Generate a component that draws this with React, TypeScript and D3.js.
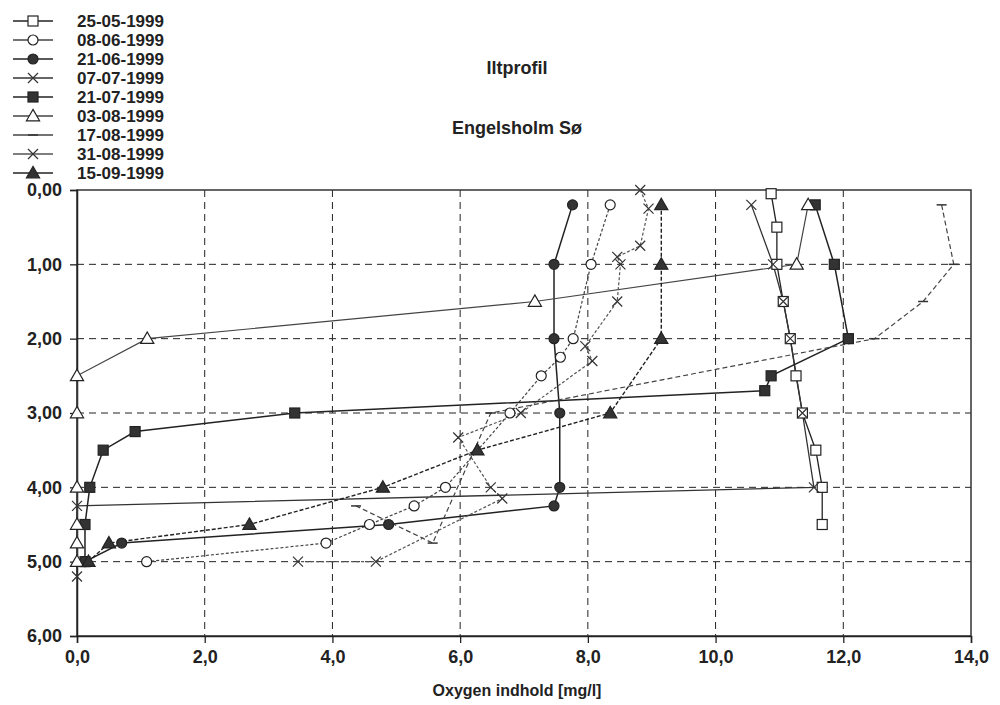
import { useEffect, useRef } from "react"
import * as d3 from "d3"

// depth in metres, oxygen in mg/l
const dates = ["25-05-1999", "08-06-1999", "21-06-1999", "07-07-1999", "21-07-1999", "03-08-1999", "17-08-1999", "31-08-1999", "15-09-1999"]

const ox2505 = [10.87, 10.96, 10.96, 11.06, 11.17, 11.26, 11.36, 11.57, 11.67, 11.67]
const d2505 = [0.05, 0.5, 1.0, 1.5, 2.0, 2.5, 3.0, 3.5, 4.0, 4.5]

const ox0806 = [8.35, 8.05, 7.77, 7.57, 7.27, 6.78, 5.77, 5.28, 4.58, 3.9, 1.09]
const d0806 = [0.2, 1.0, 2.0, 2.25, 2.5, 3.0, 4.0, 4.25, 4.5, 4.75, 5.0]

const ox2106 = [7.76, 7.47, 7.47, 7.56, 7.56, 7.47, 4.88, 0.7, 0.125]
const d2106 = [0.2, 1.0, 2.0, 3.0, 4.0, 4.25, 4.5, 4.75, 5.0]

const ox0707 = [10.56, 10.9, 11.06, 11.17, 11.36, 11.54, 0.0, 0.0]
const d0707 = [0.2, 1.0, 1.5, 2.0, 3.0, 4.0, 4.25, 5.2]

const ox2107 = [11.56, 11.86, 12.08, 10.87, 10.77, 3.41, 0.91, 0.41, 0.2, 0.125, 0.125]
const d2107 = [0.2, 1.0, 2.0, 2.5, 2.7, 3.0, 3.25, 3.5, 4.0, 4.5, 5.0]

const ox0308 = [11.45, 11.27, 7.17, 1.1, 0, 0, 0, 0, 0, 0]
const d0308 = [0.2, 1.0, 1.5, 2.0, 2.5, 3.0, 4.0, 4.5, 4.75, 5.0]

const ox1708 = [13.54, 13.73, 13.25, 12.49, 6.48, 5.57, 4.37]
const d1708 = [0.2, 1.0, 1.5, 2.0, 3.0, 4.75, 4.25]

const ox3108 = [8.82, 8.95, 8.82, 8.46, 8.51, 8.46, 7.96, 8.07, 6.95, 5.97, 6.48, 6.66, 4.68, 3.46]
const d3108 = [0.0, 0.25, 0.75, 0.9, 1.0, 1.5, 2.1, 2.3, 3.0, 3.33, 4.0, 4.15, 5.0, 5.0]

const ox1509 = [9.15, 9.15, 9.15, 8.35, 6.27, 4.79, 2.7, 0.5, 0.18]
const d1509 = [0.2, 1.0, 2.0, 3.0, 3.5, 4.0, 4.5, 4.75, 5.0]

const xTicks = [0, 2, 4, 6, 8, 10, 12, 14]
const yTicks = [0, 1, 2, 3, 4, 5, 6]

const titleLines = ["Iltprofil", "Engelsholm Sø"]
const xTitle = "Oxygen indhold [mg/l]"

const FONT = "'Liberation Sans', Arial, sans-serif"

export default function App() {
  const svgRef = useRef<SVGSVGElement>(null)

  useEffect(() => {
    const svg = d3.select(svgRef.current)
    svg.selectAll("*").remove()
    const width = 1000
    const height = 705
    const m = { left: 77, right: 971, top: 190, bottom: 636 }

    svg.attr("viewBox", `0 0 ${width} ${height}`)
    svg.append("rect").attr("width", width).attr("height", height).attr("fill", "#fff")

    const x = d3.scaleLinear().domain([0, 14]).range([m.left, m.right])
    const y = d3.scaleLinear().domain([0, 6]).range([m.top, m.bottom])
    const comma = (f: string) => (v: number) => d3.format(f)(v).replace(".", ",")

    // grid
    const grid = svg.append("g").attr("stroke", "#222").attr("stroke-width", 1).attr("stroke-dasharray", "7,5")
    grid.selectAll("line.gx")
      .data(xTicks.slice(1, -1))
      .join("line")
      .attr("x1", d => x(d)).attr("x2", d => x(d))
      .attr("y1", m.top).attr("y2", m.bottom)
    grid.selectAll("line.gy")
      .data(yTicks.slice(1, -1))
      .join("line")
      .attr("class", "gy")
      .attr("x1", m.left).attr("x2", m.right)
      .attr("y1", d => y(d)).attr("y2", d => y(d))

    // frame
    svg.append("rect")
      .attr("x", m.left).attr("y", m.top)
      .attr("width", m.right - m.left).attr("height", m.bottom - m.top)
      .attr("fill", "none").attr("stroke", "#333").attr("stroke-width", 1.5)

    // axes
    const ax = svg.append("g")
      .attr("transform", `translate(0,${m.bottom})`)
      .call(d3.axisBottom(x).tickValues(xTicks).tickFormat(comma(".1f") as any).tickSize(7).tickPadding(7))
    const ay = svg.append("g")
      .attr("transform", `translate(${m.left},0)`)
      .call(d3.axisLeft(y).tickValues(yTicks).tickFormat(comma(".2f") as any).tickSize(7).tickPadding(8))
    for (const a of [ax, ay]) {
      a.select(".domain").attr("stroke", "#222").attr("stroke-width", 1.5)
      a.selectAll(".tick line").attr("stroke", "#222").attr("stroke-width", 1.3)
      a.selectAll("text").attr("font-family", FONT).attr("font-size", 18).attr("font-weight", "bold").attr("fill", "#222")
    }

    // markers
    const drawMarker = (g: any, kind: string, cx: number, cy: number) => {
      const s = 5
      if (kind === "sq" || kind === "sqf") {
        g.append("rect").attr("x", cx - s).attr("y", cy - s).attr("width", 2 * s).attr("height", 2 * s)
          .attr("fill", kind === "sqf" ? "#333" : "#fff").attr("stroke", "#222").attr("stroke-width", 1.2)
      } else if (kind === "ci" || kind === "cif") {
        g.append("circle").attr("cx", cx).attr("cy", cy).attr("r", 5)
          .attr("fill", kind === "cif" ? "#333" : "#fff").attr("stroke", "#222").attr("stroke-width", 1.2)
      } else if (kind === "tr" || kind === "trf") {
        const sym = d3.symbol().type(d3.symbolTriangle).size(75)
        g.append("path").attr("d", sym()).attr("transform", `translate(${cx},${cy + 1})`)
          .attr("fill", kind === "trf" ? "#333" : "#fff").attr("stroke", "#222").attr("stroke-width", 1.2)
      } else if (kind === "x") {
        g.append("path").attr("d", `M${cx - 5},${cy - 5}L${cx + 5},${cy + 5}M${cx - 5},${cy + 5}L${cx + 5},${cy - 5}`)
          .attr("stroke", "#333").attr("stroke-width", 1.2).attr("fill", "none")
      } else if (kind === "dash") {
        g.append("path").attr("d", `M${cx - 5},${cy}L${cx + 5},${cy}`)
          .attr("stroke", "#333").attr("stroke-width", 1.5)
      }
    }

    const series = [
      { name: dates[0], xs: ox2505, ds: d2505, mk: "sq", dash: null, col: "#222", w: 1.3 },
      { name: dates[1], xs: ox0806, ds: d0806, mk: "ci", dash: "3,2", col: "#444", w: 1.2 },
      { name: dates[2], xs: ox2106, ds: d2106, mk: "cif", dash: null, col: "#222", w: 1.5 },
      { name: dates[3], xs: ox0707, ds: d0707, mk: "x", dash: null, col: "#333", w: 1.3 },
      { name: dates[4], xs: ox2107, ds: d2107, mk: "sqf", dash: null, col: "#222", w: 1.5 },
      { name: dates[5], xs: ox0308, ds: d0308, mk: "tr", dash: null, col: "#444", w: 1.2 },
      { name: dates[6], xs: ox1708, ds: d1708, mk: "dash", dash: "5,3", col: "#444", w: 1.2 },
      { name: dates[7], xs: ox3108, ds: d3108, mk: "x", dash: "3,2", col: "#555", w: 1.2 },
      { name: dates[8], xs: ox1509, ds: d1509, mk: "trf", dash: "4,2", col: "#222", w: 1.4 },
    ]

    const line = d3.line<[number, number]>().x(d => x(d[0])).y(d => y(d[1]))
    const plot = svg.append("g")
    series.forEach(s => {
      const pts: [number, number][] = s.xs.map((v, i) => [v, s.ds[i]])
      plot.append("path")
        .attr("d", line(pts))
        .attr("fill", "none")
        .attr("stroke", s.col)
        .attr("stroke-width", s.w)
        .attr("stroke-dasharray", s.dash)
    })
    series.forEach(s => {
      const g = plot.append("g")
      s.xs.forEach((v, i) => drawMarker(g, s.mk, x(v), y(s.ds[i])))
    })

    // legend
    const leg = svg.append("g")
    series.forEach((s, i) => {
      const cy = 21 + i * 19
      leg.append("line").attr("x1", 13).attr("x2", 53).attr("y1", cy).attr("y2", cy)
        .attr("stroke", s.col).attr("stroke-width", 1.3)
      drawMarker(leg, s.mk, 33, cy)
      leg.append("text").attr("x", 77).attr("y", cy).attr("dy", "0.36em")
        .attr("font-family", FONT).attr("font-size", 17).attr("font-weight", "bold").attr("fill", "#222")
        .text(s.name)
    })

    // titles
    svg.selectAll("text.title")
      .data(titleLines)
      .join("text")
      .attr("class", "title")
      .attr("x", 517).attr("y", (d, i) => 74 + i * 60)
      .attr("text-anchor", "middle")
      .attr("font-family", FONT).attr("font-size", 18).attr("font-weight", "bold").attr("fill", "#222")
      .text(d => d)

    svg.append("text")
      .attr("x", 517).attr("y", 696)
      .attr("text-anchor", "middle")
      .attr("font-family", FONT).attr("font-size", 16).attr("font-weight", "bold").attr("fill", "#222")
      .text(xTitle)
  }, [])

  return <svg ref={svgRef} width={1000} height={705} style={{ position: "absolute", left: 0, top: 0 }} />
}
